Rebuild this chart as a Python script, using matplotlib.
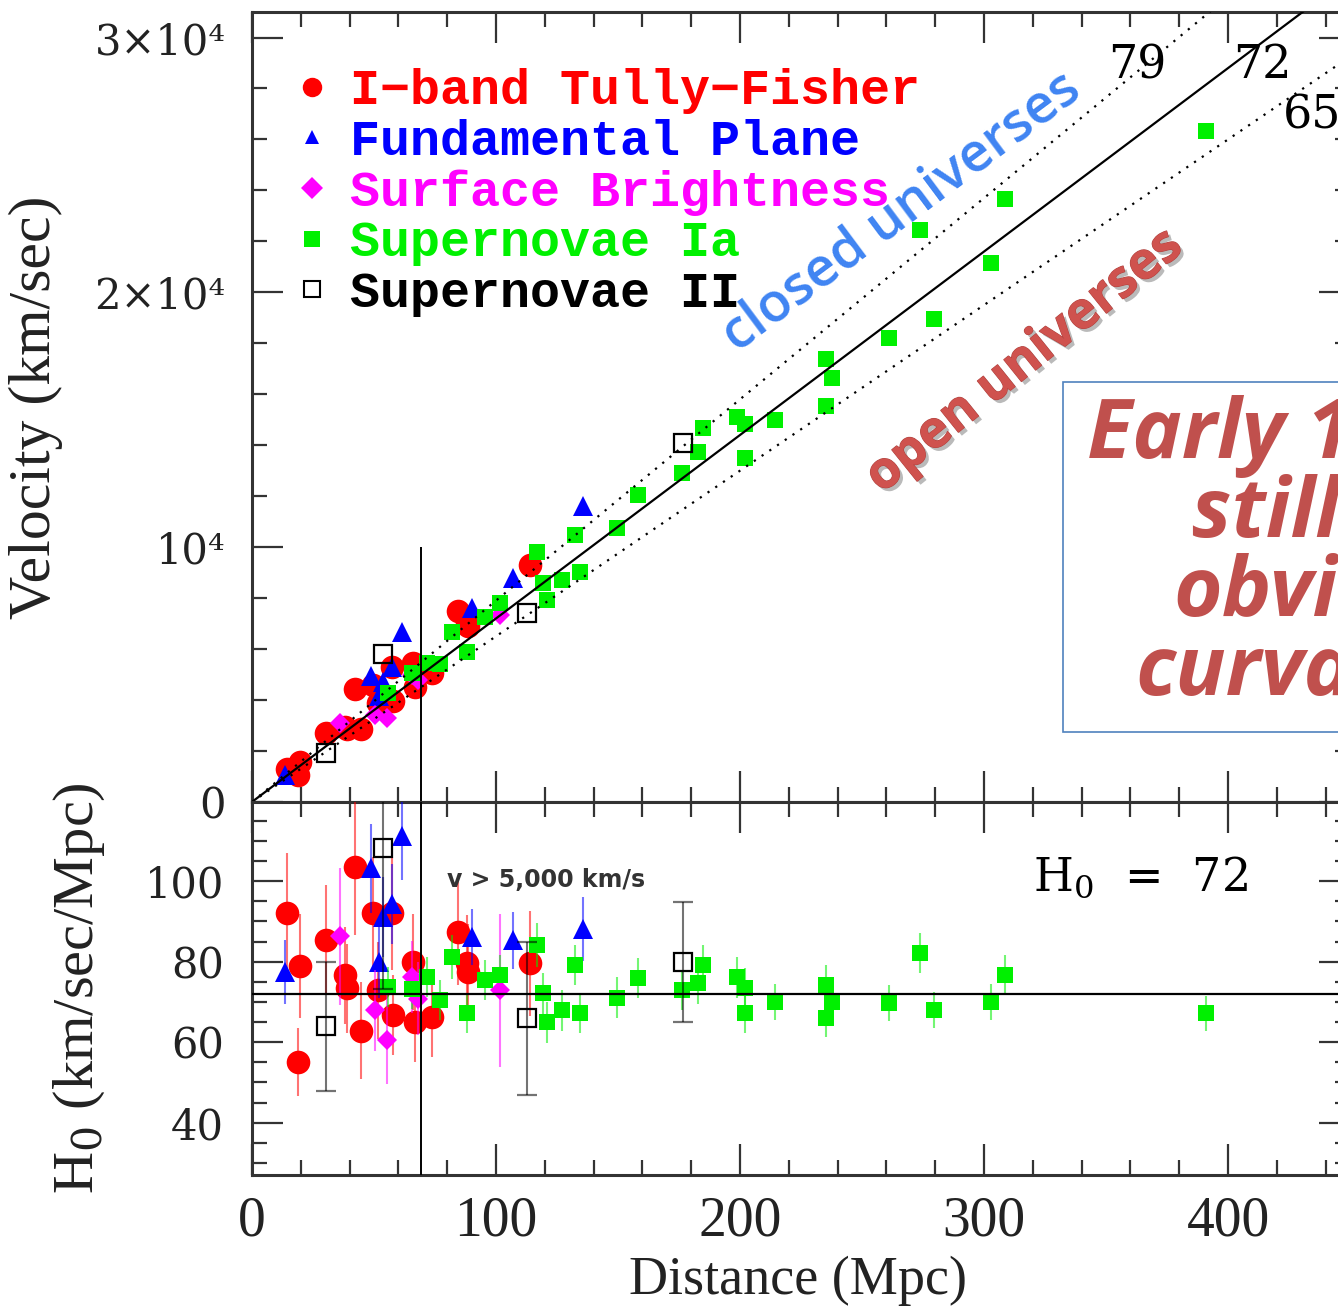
import matplotlib
matplotlib.use("Agg")
import matplotlib.pyplot as plt
import matplotlib.patheffects as pe
from matplotlib.colors import to_rgba
from matplotlib.lines import Line2D
from matplotlib.patches import Rectangle
from matplotlib.ticker import MultipleLocator, FixedLocator

plt.rcParams['font.family'] = 'Liberation Serif'
plt.rcParams['mathtext.fontset'] = 'custom'
plt.rcParams['mathtext.rm'] = 'DejaVu Serif'

# I-band Tully-Fisher
tf_dist = [14.2, 19.7, 19.0, 30.2, 38.1, 38.8, 42.2, 44.7, 49.7, 57.3, 51.8, 57.9, 66.1, 66.8, 73.6, 84.5, 88.0, 88.6, 113.9]
tf_vel = [1310, 1560, 1060, 2700, 2930, 2880, 4450, 2880, 4600, 5300, 3900, 3950, 5450, 4500, 5050, 7500, 7000, 6900, 9300]
tf_h0 = [92.0, 78.9, 55.1, 85.5, 76.6, 73.4, 103.6, 62.9, 92.0, 92.0, 72.9, 66.7, 79.9, 65.0, 66.2, 87.3, 79.6, 77.4, 79.6]
tf_err = [15, 13, 8.5, 13.5, 12, 11, 17, 12, 14, 14, 12, 10, 12, 10, 10, 13, 12, 12, 13]

# Fundamental Plane
fp_dist = [13.5, 48.8, 61.4, 53.6, 57.3, 52.2, 90.0, 107.1, 135.8]
fp_vel = [1050, 4950, 6650, 4700, 5300, 4150, 7600, 8800, 11600]
fp_h0 = [77.4, 103.2, 111.2, 91.1, 94.4, 79.9, 86.1, 85.3, 88.2]
fp_err = [8, 11, 11, 10, 10, 9, 7, 7, 8]

# Surface Brightness
sbf_dist = [36.1, 50.4, 55.2, 65.5, 68.2, 101.6]
sbf_vel = [3100, 3400, 3300, 5000, 4800, 7350]
sbf_h0 = [86.3, 67.9, 60.6, 76.2, 70.8, 72.9]
sbf_err = [17, 10, 11, 9, 9, 19]

# Supernovae Ia
sn1a_dist = [55.9, 65.5, 71.6, 77.0, 82.0, 88.0, 95.5, 101.6, 116.8, 119.3, 121.0, 127.0, 134.4, 132.4, 149.6, 158.2,
             176.2, 184.8, 182.8, 198.8, 202.0, 202.0, 214.3, 235.2, 237.7, 235.2, 261.0, 273.8, 279.5, 302.9, 308.6, 391.0]
sn1a_vel = [4270, 5060, 5450, 5420, 6660, 5880, 7250, 7800, 9800, 8580, 7920, 8700, 9020, 10470, 10740, 12030,
            12900, 14660, 13720, 15100, 14830, 13480, 14970, 17400, 16650, 15530, 18190, 22450, 18970, 21170, 23660, 26320]
sn1a_h0 = [73.7, 73.3, 76.2, 70.4, 81.1, 67.2, 75.4, 76.6, 84.1, 72.1, 64.9, 67.9, 67.2, 79.1, 71.1, 75.9,
           72.9, 79.1, 74.6, 76.1, 73.4, 67.2, 69.9, 74.1, 69.9, 65.9, 69.7, 82.1, 67.9, 69.9, 76.6, 67.2]
sn1a_err = [5, 5, 5, 5, 5.5, 5, 5, 5, 5.5, 5, 5, 5, 5, 5, 5, 5,
            5, 5, 5, 5, 5, 5, 4.5, 5, 4.5, 4.5, 4.5, 5, 4.5, 4.5, 5, 4.3]

# Supernovae II
sn2_dist = [30.2, 53.6, 112.7, 176.6]
sn2_vel = [1930, 5800, 7430, 14100]
sn2_h0 = [63.9, 108.3, 65.9, 79.9]
sn2_err = [16, 35, 19, 15]

labels = ["I\u2212band Tully\u2212Fisher", "Fundamental Plane", "Surface Brightness",
          "Supernovae Ia", "Supernovae II"]

h0_values = [79, 72, 65]
v_cut = 69.4   # distance for v > 5000 km/s

# styles (order: TF, FP, SBF, SNIa, SNII)
colors = ['#ff0000', '#0000ff', '#ff00ff', '#00f000', '#000000']
markers = ['o', '^', 'D', 's', 's']
sizes = [17, 14, 10, 11.5, 12.5]
leg_sizes = [14, 10, 11, 11, 11.5]

series = [(tf_dist, tf_vel, tf_h0, tf_err),
          (fp_dist, fp_vel, fp_h0, fp_err),
          (sbf_dist, sbf_vel, sbf_h0, sbf_err),
          (sn1a_dist, sn1a_vel, sn1a_h0, sn1a_err),
          (sn2_dist, sn2_vel, sn2_h0, sn2_err)]

fig = plt.figure(figsize=(13.38, 13.08), dpi=100)
ax1 = fig.add_axes([0.1883, 0.3869, 0.8207, 0.6039])
ax2 = fig.add_axes([0.1883, 0.1017, 0.8207, 0.2852])

for i, (d, v, h, e) in enumerate(series):
    c = colors[i]
    hollow = (i == 4)
    ax1.plot(d, v, ls='none', marker=markers[i], ms=sizes[i],
             mfc='none' if hollow else c, mec=c, mew=1.6 if hollow else 0, zorder=3 + i * 0.1)
    ax2.errorbar(d, h, yerr=e, fmt=markers[i], ms=sizes[i], mfc='none' if hollow else c,
                 mec=c, mew=1.6 if hollow else 0, ecolor=to_rgba(c, 0.55),
                 elinewidth=1.5, capsize=7, capthick=1.5, zorder=3 + i * 0.1)

# Hubble lines
d_line = [0, 450]
for h0 in h0_values:
    ls = '-' if h0 == 72 else (0, (1, 3.2))
    ax1.plot(d_line, [h0 * d for d in d_line], color='k', lw=1.6, ls=ls, zorder=6)

ax1.text(362.7, 28890, '79', ha='center', va='center', family='DejaVu Serif', size=33)
ax1.text(414.0, 28890, '72', ha='center', va='center', family='DejaVu Serif', size=33)
ax1.text(434.5, 26930, '65', ha='center', va='center', family='DejaVu Serif', size=33)
ax1.vlines(v_cut, 0, 1e4, color='k', lw=1.4, zorder=6)

ax2.axhline(72, color='k', lw=1.6, zorder=6)
ax2.axvline(v_cut, color='k', lw=1.4, zorder=6)
ax2.text(79.9, 100.2, 'v > 5,000 km/s', ha='left', va='center', family='DejaVu Sans',
         size=17, weight='bold', color='#333333')
ax2.text(320, 101, 'H$_0$  =  72', ha='left', va='center', family='DejaVu Serif', size=33)

# axes, ticks
for ax in (ax1, ax2):
    ax.set_xlim(0, 450)
    ax.xaxis.set_major_locator(MultipleLocator(100))
    ax.xaxis.set_minor_locator(MultipleLocator(20))
    ax.tick_params(which='both', direction='in', top=True, right=True, width=1.6, color='#333333')
    ax.tick_params(which='major', length=22)
    ax.tick_params(which='minor', length=11)
    for sp in ax.spines.values():
        sp.set_linewidth(2.2)
        sp.set_color('#333333')

ax1.set_ylim(0, 31000)
ax1.yaxis.set_major_locator(FixedLocator([0, 1e4, 2e4, 3e4]))
ax1.yaxis.set_minor_locator(MultipleLocator(2000))
ax1.set_yticklabels(['0', '10\u2074', '2\u00d710\u2074', '3\u00d710\u2074'])
ax1.tick_params(axis='x', labelbottom=False)
ax1.tick_params(axis='y', labelsize=30, pad=19, labelcolor='#222222')
for lab in ax1.get_yticklabels():
    lab.set_family('DejaVu Serif')

ax2.set_ylim(27, 119.7)
ax2.yaxis.set_major_locator(FixedLocator([40, 60, 80, 100]))
ax2.yaxis.set_minor_locator(MultipleLocator(5))
ax2.tick_params(axis='y', labelsize=30, pad=20, labelcolor='#222222')
ax2.tick_params(axis='x', labelsize=40, pad=15, labelcolor='#222222')
for lab in ax2.get_yticklabels():
    lab.set_family('DejaVu Serif')

ax1.set_ylabel('Velocity (km/sec)', size=43, color='#222222')
ax1.yaxis.set_label_coords(-0.172, 0.5)
ax2.set_ylabel('H$_0$ (km/sec/Mpc)', size=42, color='#222222')
ax2.yaxis.set_label_coords(-0.132, 0.5)
ax2.set_xlabel('Distance (Mpc)', size=39, color='#222222')
ax2.xaxis.label.set_va('baseline')
ax2.xaxis.set_label_coords(0.497, -0.318)

# legend
handles = []
for i in range(5):
    hollow = (i == 4)
    handles.append(Line2D([], [], ls='none', marker=markers[i], ms=leg_sizes[i],
                          mfc='none' if hollow else colors[i], mec=colors[i], mew=1.5 if hollow else 0))
ax1.legend(handles, labels, loc='upper left', bbox_to_anchor=(0.2182, 0.9480),
           bbox_transform=fig.transFigure, frameon=False,
           prop=dict(family='Liberation Mono', weight='bold', size=36),
           handlelength=0.8, handletextpad=0.36, labelspacing=0.09,
           borderpad=0, borderaxespad=0, labelcolor=colors)

# slide annotations
fig.text(0.674, 0.838, 'closed universes', rotation=36.7, rotation_mode='anchor',
         ha='center', va='center', color='#3f84f2', family='Open Sans', weight='semibold', size=39)
fig.text(0.766, 0.7232, 'open universes', rotation=38.8, rotation_mode='anchor',
         ha='center', va='center', color='#cf524e', family='Open Sans', weight='bold', size=37,
         path_effects=[pe.SimplePatchShadow(offset=(2.5, -2.5), shadow_rgbFace='#666666', alpha=0.45),
                       pe.Stroke(linewidth=0.8, foreground='#b04440'), pe.Normal()])

box = Rectangle((0.7945, 0.4404), 0.3, 0.2676, transform=fig.transFigure,
                facecolor='white', edgecolor='#4f81bd', lw=1.2, zorder=5)
fig.add_artist(box)
box_lines = ['Early 1990s', 'still no', 'obvious', 'curvature']
box_x = [0.8124, 0.8909, 0.8767, 0.8483]
box_y = [0.6498, 0.5895, 0.5291, 0.4687]
for txt, x, y in zip(box_lines, box_x, box_y):
    fig.text(x, y, txt, ha='left', va='baseline', family='Open Sans', style='italic',
             weight='bold', size=60, color='#c0504d', zorder=6)

fig.savefig('out.png', dpi=100)
